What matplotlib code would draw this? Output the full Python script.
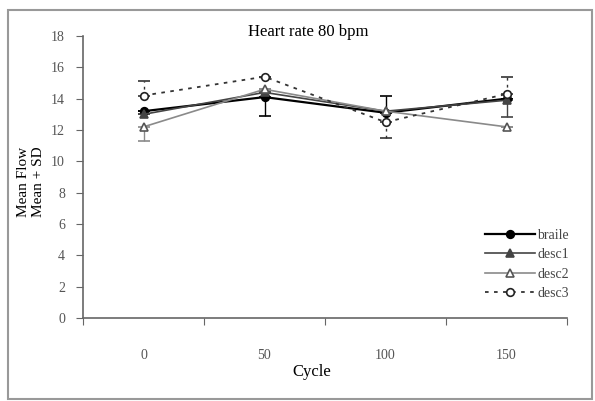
import matplotlib.pyplot as plt
from matplotlib.patches import Rectangle
from matplotlib.lines import Line2D
import numpy as np

# data
cycles = ['0', '50', '100', '150']
braile = [13.2, 14.1, 13.1, 14.0]
braile_lo = [0.0, 1.2, 0.0, 0.0]
braile_hi = [0.0, 0.0, 1.1, 0.0]
desc1 = [13.0, 14.4, 13.2, 13.9]
desc1_lo = [0.0, 0.0, 0.0, 1.1]
desc1_hi = [0.0, 0.0, 0.0, 0.0]
desc2 = [12.2, 14.6, 13.2, 12.2]
desc2_lo = [0.9, 0.0, 0.0, 0.0]
desc2_hi = [0.0, 0.0, 0.0, 0.0]
desc3 = [14.2, 15.4, 12.5, 14.3]
desc3_lo = [0.0, 0.0, 1.0, 0.0]
desc3_hi = [0.9, 0.0, 0.0, 1.1]

plt.rcParams['font.family'] = ['Liberation Serif', 'DejaVu Serif']

fig = plt.figure(figsize=(5.95, 4.01), dpi=100)
fig.patches.append(Rectangle((8/595, 1-399/401), 584/595, 389/401, transform=fig.transFigure,
                             fill=False, edgecolor='#999999', lw=1.5))
ax = fig.add_axes([83/595, 1-318/401, 484/595, 282/401])

x = np.arange(len(cycles))
series = [
    ('braile', braile, braile_lo, braile_hi, dict(color='black', marker='o', mfc='black', ls='-', lw=1.6, ms=5.5)),
    ('desc1', desc1, desc1_lo, desc1_hi, dict(color='#444444', marker='^', mfc='#444444', ls='-', lw=1.2, ms=5.5)),
    ('desc2', desc2, desc2_lo, desc2_hi, dict(color='#8a8a8a', marker='^', mfc='white', mec='#555555', ls='-', lw=1.2, ms=5.5)),
    ('desc3', desc3, desc3_lo, desc3_hi, dict(color='#333333', marker='o', mfc='white', mec='#222222', ls=(0, (2, 3)), lw=1.3, ms=5.5)),
]
handles = []
for name, vals, lo, hi, st in series:
    eb = ax.errorbar(x, vals, yerr=[lo, hi], capsize=4, elinewidth=1.0, ecolor=st['color'],
                     mew=1.2, **st)
    if name == 'desc3':
        for c in eb[2]:
            c.set_linestyle((0, (2, 3)))
    handles.append(Line2D([], [], mew=1.2, label=name, **st))

ax.set_ylim(0, 18)
ax.set_xlim(-0.5, 3.5)
ax.set_yticks(np.arange(0, 19, 2))
ax.set_xticks(np.arange(-0.5, 4, 1))
ax.set_xticklabels([])
ax.set_xticks(x, minor=True)
ax.set_xticklabels(cycles, minor=True)
ax.tick_params(axis='x', which='minor', length=0, pad=22, labelsize=10, colors='#555555')
ax.tick_params(axis='x', which='major', length=5, direction='out', color='#666666')
ax.tick_params(axis='y', length=5, direction='out', color='#666666', labelsize=10, labelcolor='#555555', pad=8)
for s in ['top', 'right']:
    ax.spines[s].set_visible(False)
for s in ['left', 'bottom']:
    ax.spines[s].set_color('#666666')
    ax.spines[s].set_linewidth(1.2)

fig.text(308/595, 1-32/401, 'Heart rate 80 bpm', ha='center', va='center', fontsize=12)
fig.text(312/595, 1-372/401, 'Cycle', ha='center', va='center', fontsize=12)
fig.text(31/595, 1-182/401, 'Mean Flow\nMean + SD', ha='center', va='center', rotation=90,
         fontsize=11, linespacing=1.25)

ax.legend(handles=handles, loc='lower right', bbox_to_anchor=(1.03, 0.02), frameon=False, fontsize=10,
          handlelength=3.6, handletextpad=0.2, labelspacing=0.45, labelcolor='#444444')

fig.savefig('out.png', dpi=100)
